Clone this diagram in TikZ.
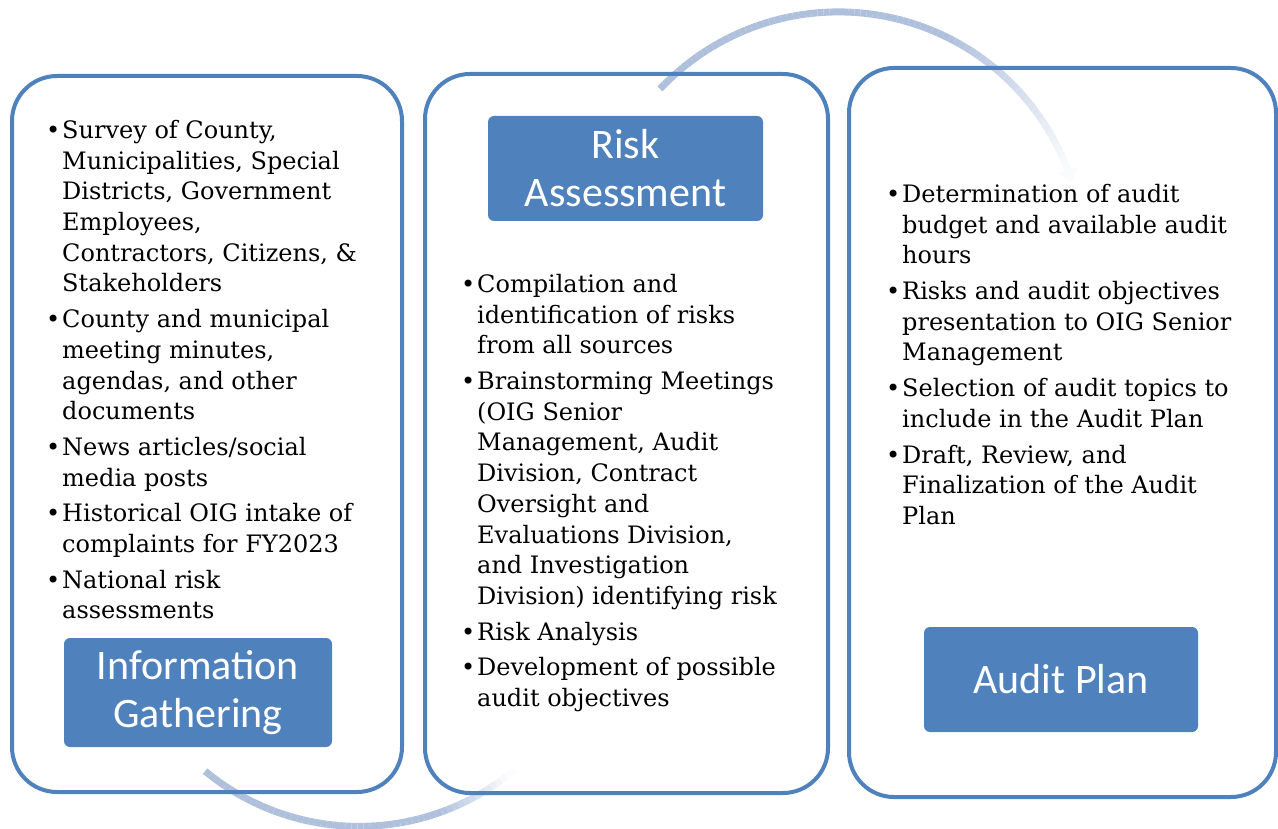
\documentclass[tikz,border=0pt]{standalone}
\usepackage{fontspec}
\setmainfont{DejaVu Serif}
\newfontfamily\headfont{Carlito}
\usepackage{tikz}
\usetikzlibrary{arrows.meta}
\definecolor{oigblue}{HTML}{4F81BD}
\definecolor{arcblue}{HTML}{AFC0DC}
\newcommand{\bul}{\llap{\textbullet\hspace{2pt}}}

\begin{document}
\begin{tikzpicture}[x=1pt,y=-1pt,
	panel/.style={draw=oigblue,line width=4pt,rounded corners=45pt,inner sep=0pt},
	tag/.style={fill=oigblue,rounded corners=6pt,text=white,inner sep=0pt,align=center,
		font=\headfont\fontsize{42}{48}\selectfont},
	items/.style={anchor=north west,align=left,inner sep=0pt,font=\fontsize{24}{30.7}\selectfont}]
		\useasboundingbox (0,0) rectangle (1278,829);
		% faded arc at the bottom, from the first panel to the second
		\foreach \i in {0,...,54} {
			\pgfmathsetmacro\aa{230.5+\i*1.45}
			\pgfmathsetmacro\ab{\aa+1.45}
			\pgfmathsetmacro\p{\i<40 ? 100 : max(4,100-(\i-40)*7.5)}
			\draw[arcblue!\p!white,line width=7pt] ({359+242*cos(\aa)},{584.4-242*sin(\aa)}) -- ({359+242*cos(\ab)},{584.4-242*sin(\ab)});
		}
		% faded arc at the top, from the second panel to the third
		\foreach \i in {0,...,79} {
			\pgfmathsetmacro\aa{136.7-\i*1.44}
			\pgfmathsetmacro\ab{\aa-1.44}
			\pgfmathsetmacro\p{\i<50 ? 100 : max(6,100-(\i-50)*3.2)}
			\draw[arcblue!\p!white,line width=7pt] ({838.5+245.3*cos(\aa)},{257.2-245.3*sin(\aa)}) -- ({838.5+245.3*cos(\ab)},{257.2-245.3*sin(\ab)});
		}
		\draw[arcblue!6!white,line width=7pt,-{Triangle[width=20pt,length=12pt]}] ({838.5+245.3*cos(21.6)},{257.2-245.3*sin(21.6)}) -- ({838.5+245.3*cos(17.9)},{257.2-245.3*sin(17.9)});

		\node[panel,minimum width=390pt,minimum height=716pt] (gather) at (207,434) {};
		\node[panel,minimum width=403pt,minimum height=719pt] (assess) at (626.5,433.5) {};
		\node[panel,minimum width=427pt,minimum height=729pt] (plan) at (1062.5,432.5) {};

		\node[tag,minimum width=268pt,minimum height=109pt] (gathertag) at (198,692.5) {Information\\Gathering};
		\node[tag,minimum width=275pt,minimum height=105pt] (assesstag) at (625.5,168.5) {Risk\\Assessment};
		\node[tag,minimum width=274pt,minimum height=105pt] (plantag) at (1061,679.5) {Audit Plan};

		\node[items] (gathertext) at (62,120) {\bul Survey of County,\\ Municipalities, Special\\ Districts, Government\\ Employees,\\ Contractors, Citizens, \&\\ Stakeholders\\[5pt]
			\bul County and municipal\\ meeting minutes,\\ agendas, and other\\ documents\\[5pt]
			\bul News articles/social\\ media posts\\[5pt]
			\bul Historical OIG intake of\\ complaints for FY2023\\[5pt]
			\bul National risk\\ assessments};
		\node[items] (assesstext) at (477,274) {\bul Compilation and\\ identification of risks\\ from all sources\\[5pt]
			\bul Brainstorming Meetings\\ (OIG Senior\\ Management, Audit\\ Division, Contract\\ Oversight and\\ Evaluations Division,\\ and Investigation\\ Division) identifying risk\\[5pt]
			\bul Risk Analysis\\[5pt]
			\bul Development of possible\\ audit objectives};
		\node[items] (plantext) at (902,184) {\bul Determination of audit\\ budget and available audit\\ hours\\[5pt]
			\bul Risks and audit objectives\\ presentation to OIG Senior\\ Management\\[5pt]
			\bul Selection of audit topics to\\ include in the Audit Plan\\[5pt]
			\bul Draft, Review, and\\ Finalization of the Audit\\ Plan};
	\end{tikzpicture}
\end{document}
